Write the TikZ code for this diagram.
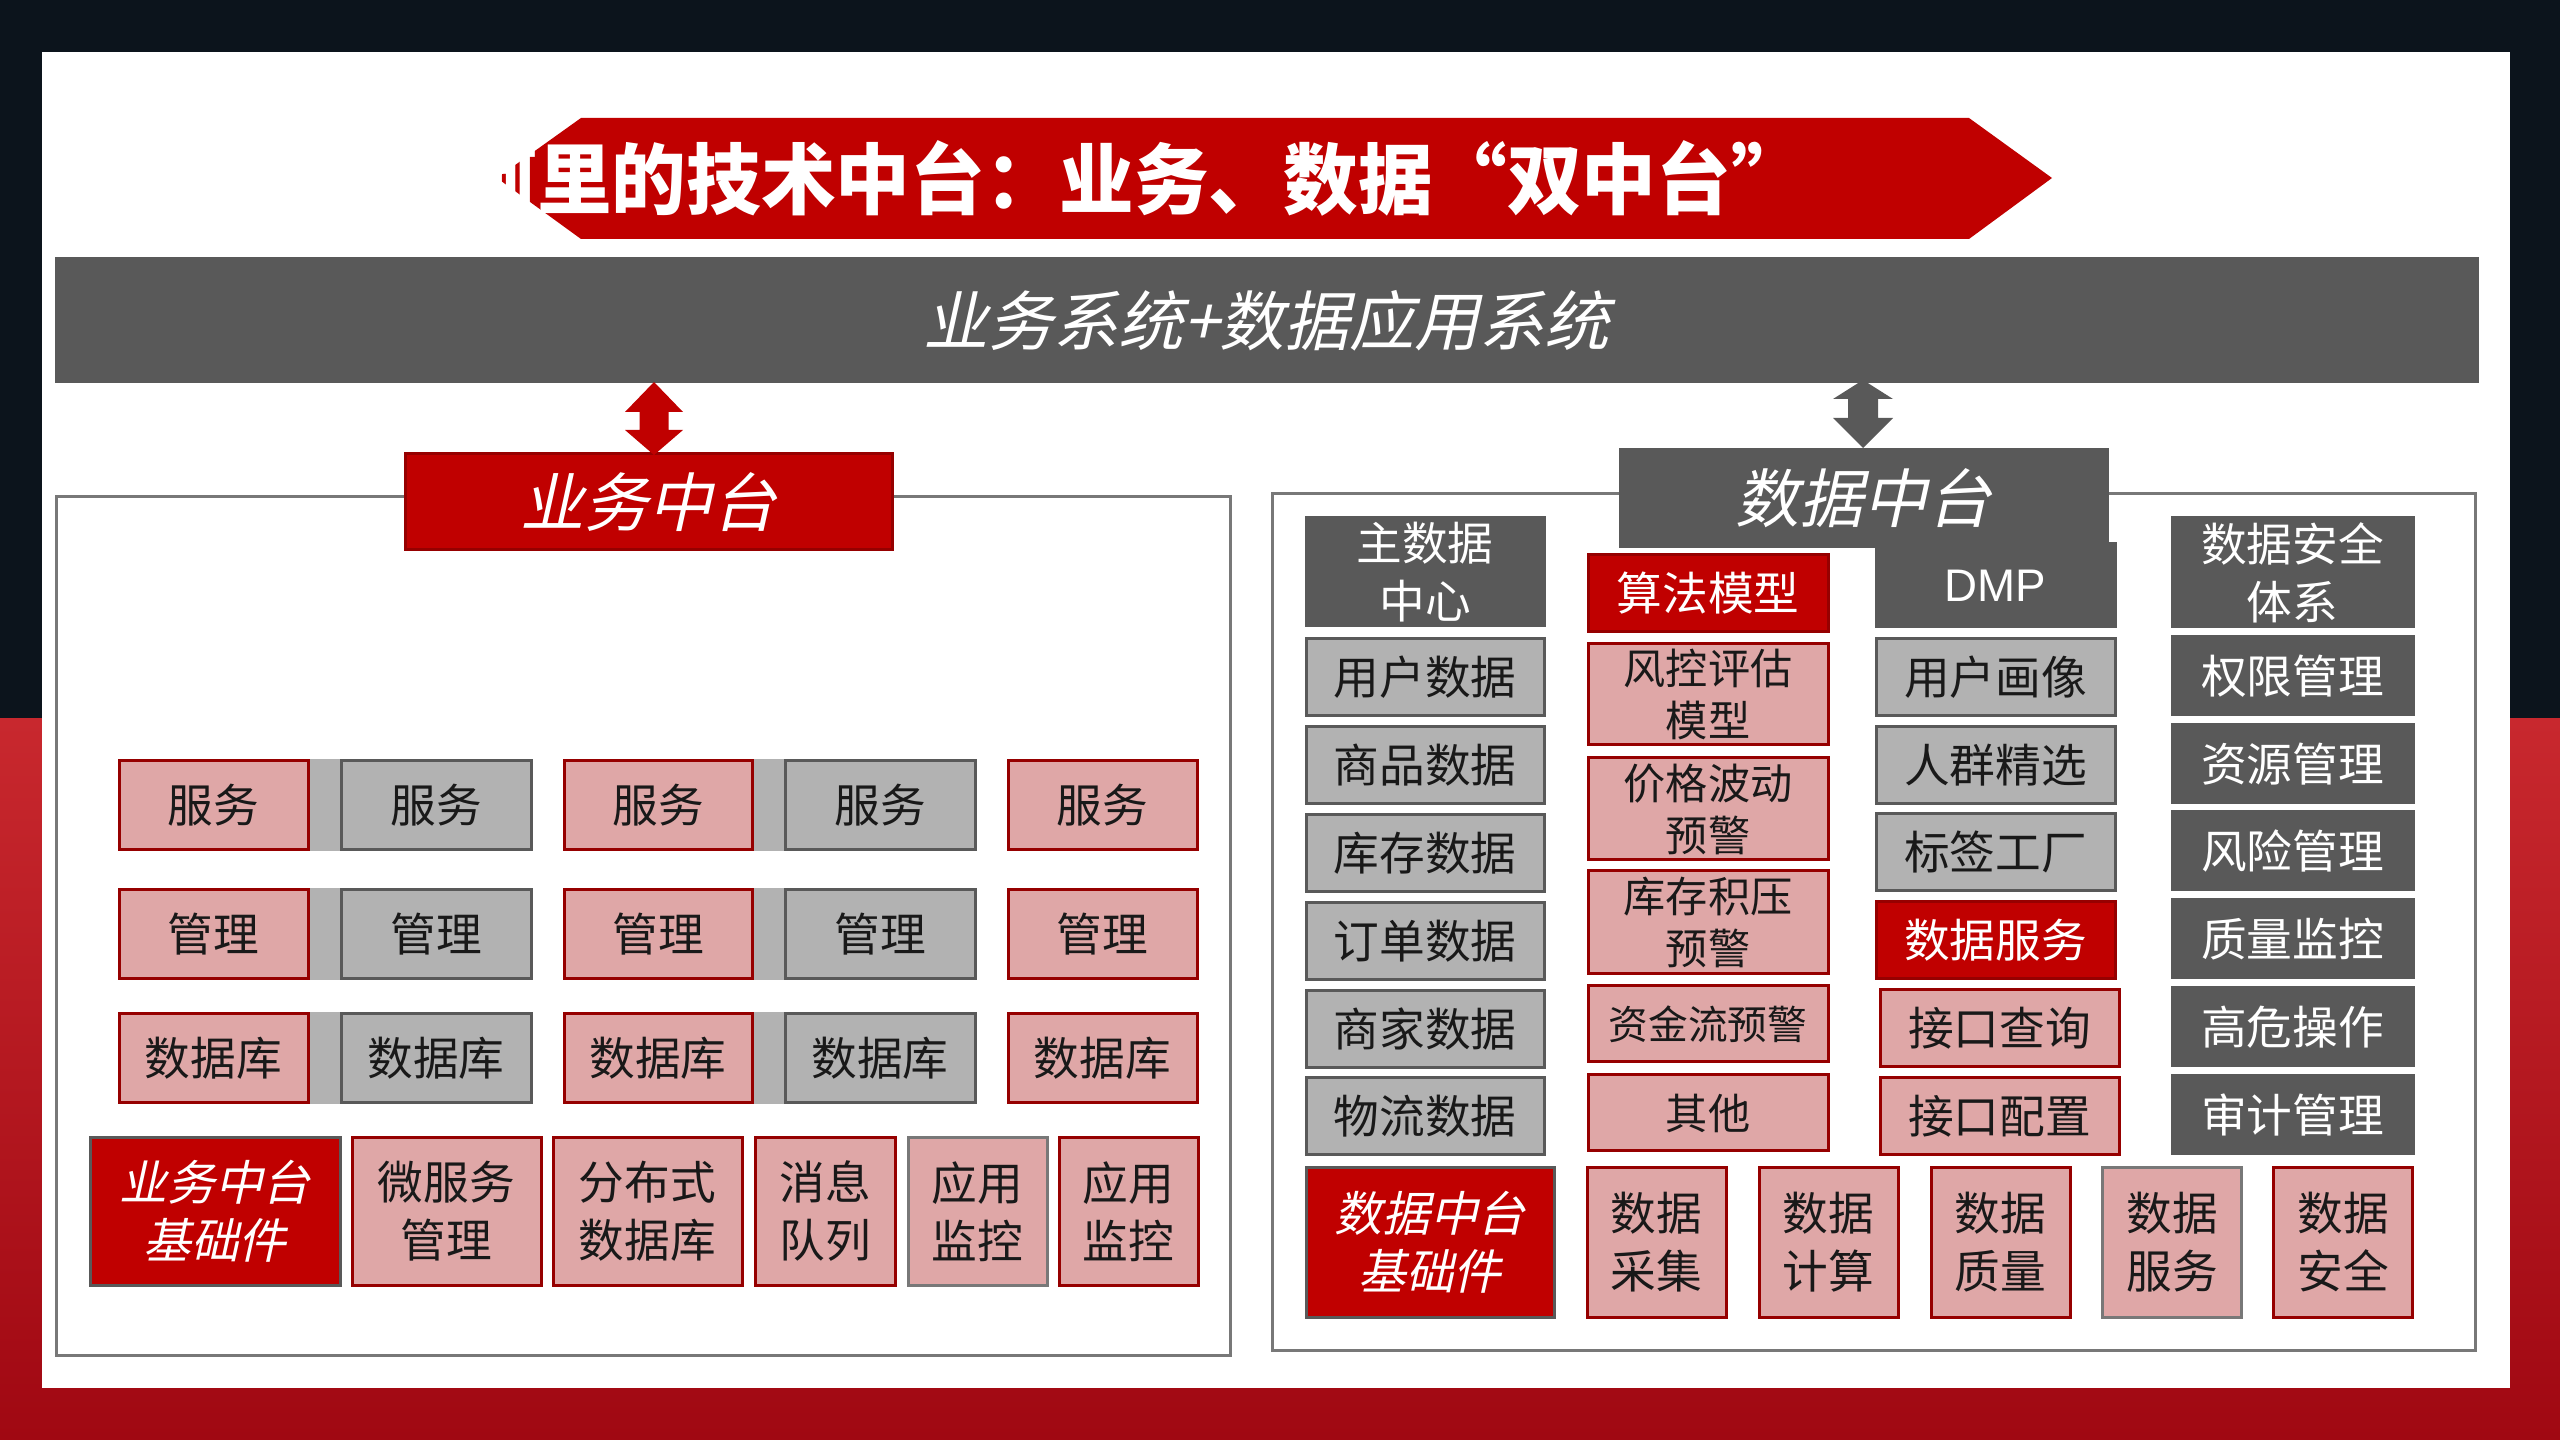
\documentclass[tikz,border=0pt]{standalone}
\usepackage{fontspec}
\setmainfont{Noto Sans CJK SC}
\newfontfamily\slantfont[FakeSlant=0.22]{Noto Sans CJK SC}
\newfontfamily\titlefont[FakeStretch=0.965]{Noto Sans CJK SC}
\newfontfamily\arialfont{Liberation Sans}

\definecolor{mred}{RGB}{192,0,0}
\definecolor{dred}{RGB}{150,0,0}
\definecolor{mpink}{RGB}{223,167,167}
\definecolor{lgray}{RGB}{178,178,178}
\definecolor{dgray}{RGB}{89,89,89}
\definecolor{lineg}{RGB}{120,120,120}
\definecolor{txt}{RGB}{25,25,25}
\definecolor{bgtop}{RGB}{12,20,28}
\definecolor{bgred}{RGB}{200,40,46}
\definecolor{bgred2}{RGB}{160,8,18}

\newcommand\fbody{\fontsize{13pt}{16.5pt}\selectfont}
\newcommand\ftwo{\fontsize{12pt}{14.8pt}\selectfont}
\newcommand\fbig{\slantfont\fontsize{18.2pt}{22pt}\selectfont}

\tikzset{
  cell/.style = {align=center, inner sep=0pt, text centered, font=\fbody,
    line width=0.3mm},
  sz/.style 2 args = {minimum width=#1*0.1mm, minimum height=#2*0.1mm},
  pink_n/.style = {cell, fill=mpink, draw=dred, text=txt},% rosa, bord rouge
  pinkg_n/.style = {cell, fill=mpink, draw=lineg, text=txt},% rosa, bord gris
  gray_n/.style = {cell, fill=lgray, draw=dgray, text=txt},
  dark_n/.style = {cell, fill=dgray, draw=dgray, text=white},
  red_n/.style = {cell, fill=mred, draw=dred, text=white},
  base_n/.style = {cell, fill=mred, draw=dgray, text=white,
    font=\slantfont\fontsize{13.6pt}{16.5pt}\selectfont},
  frame_n/.style = {draw=lineg, line width=0.3mm, inner sep=0pt},
}

\begin{document}
\begin{tikzpicture}[x=0.1mm, y=-0.1mm]
\useasboundingbox (0,0) rectangle (2560,1440);

% fond
\fill[bgtop] (0,0) rectangle (2560,719);
\shade[top color=bgred, bottom color=bgred2] (0,719) rectangle (2560,1440);
\fill[white] (42,52) rectangle (2510,1388);

% titre
\fill[mred] (497,178) -- (581,118) -- (1969,118) -- (2052,178) -- (1969,239)
  -- (581,239) -- cycle;
\node[anchor=west, inner sep=0pt, text=white,
  font=\titlefont\bfseries\fontsize{22pt}{26pt}\selectfont] (title) at (462,178)
  {阿里的技术中台：业务、数据“双中台”};

% barre du haut
\node[dark_n, sz={2421}{123}, font=\slantfont\fontsize{18.5pt}{22pt}\selectfont]
  (bar) at (1266.5,320.5) {业务系统+数据应用系统};

% cadres
\node[frame_n, sz={1174}{858}] (lpanel) at (643,926) {};
\node[frame_n, sz={1203}{856}] (rpanel) at (1873.5,922) {};

\node[red_n, sz={487}{96}, font=\fbig] (bizlbl) at (648.5,502) {业务中台};
\node[dark_n, sz={487}{97}, font=\fbig] (datlbl) at (1863.5,498.5) {数据中台};

% fleches doubles
\coordinate (rtop) at (654,382);
\coordinate (gtop) at (1863,380);
\fill[mred] (rtop) -- ++(29,30) -- ++(-14.5,0) -- ++(0,18) -- ++(14.5,0)
  -- ++(-29,25) -- ++(-29,-25) -- ++(14.5,0) -- ++(0,-18) -- ++(-14.5,0) -- cycle;
\fill[dgray] (gtop) -- ++(30,19) -- ++(-15,0) -- ++(0,19) -- ++(15,0)
  -- ++(-30,30) -- ++(-30,-30) -- ++(15,0) -- ++(0,-19) -- ++(-15,0) -- cycle;

% 业务中台
\node[pink_n, sz={189}{89}] (s1) at (213.5,805) {服务};
\node[gray_n, sz={190}{89}] (s2) at (436,805) {服务};
\node[pink_n, sz={188}{89}] (s3) at (658,805) {服务};
\node[gray_n, sz={190}{89}] (s4) at (880,805) {服务};
\node[pink_n, sz={189}{89}] (s5) at (1102.5,805) {服务};

\node[pink_n, sz={189}{89}] (m1) at (213.5,934) {管理};
\node[gray_n, sz={190}{89}] (m2) at (436,934) {管理};
\node[pink_n, sz={188}{89}] (m3) at (658,934) {管理};
\node[gray_n, sz={190}{89}] (m4) at (880,934) {管理};
\node[pink_n, sz={189}{89}] (m5) at (1102.5,934) {管理};

\node[pink_n, sz={189}{89}] (d1) at (213.5,1058) {数据库};
\node[gray_n, sz={190}{89}] (d2) at (436,1058) {数据库};
\node[pink_n, sz={188}{89}] (d3) at (658,1058) {数据库};
\node[gray_n, sz={190}{89}] (d4) at (880,1058) {数据库};
\node[pink_n, sz={189}{89}] (d5) at (1102.5,1058) {数据库};

% bandes grises entre les cases
\fill[lgray] (s1.north east) rectangle (s2.south west);
\fill[lgray] (s3.north east) rectangle (s4.south west);
\fill[lgray] (m1.north east) rectangle (m2.south west);
\fill[lgray] (m3.north east) rectangle (m4.south west);
\fill[lgray] (d1.north east) rectangle (d2.south west);
\fill[lgray] (d3.north east) rectangle (d4.south west);

\node[base_n, sz={250}{147}] (bbase) at (215,1211.5) {业务中台\\基础件};
\node[pink_n, sz={189}{147}] (b2) at (446.5,1211.5) {微服务\\管理};
\node[pink_n, sz={189}{147}] (b3) at (647.5,1211.5) {分布式\\数据库};
\node[pink_n, sz={140}{147}] (b4) at (825,1211.5) {消息\\队列};
\node[pinkg_n, sz={139}{147}] (b5) at (977.5,1211.5) {应用\\监控};
\node[pink_n, sz={139}{147}] (b6) at (1128.5,1211.5) {应用\\监控};

% 数据中台
\node[dark_n, sz={238}{108}] (mdc) at (1425,572) {主数据\\中心};
\node[gray_n, sz={238}{77}] (c1a) at (1425,677) {用户数据};
\node[gray_n, sz={238}{77}] (c1b) at (1425,765) {商品数据};
\node[gray_n, sz={238}{77}] (c1c) at (1425,853) {库存数据};
\node[gray_n, sz={238}{77}] (c1d) at (1425,941) {订单数据};
\node[gray_n, sz={238}{77}] (c1e) at (1425,1029) {商家数据};
\node[gray_n, sz={238}{77}] (c1f) at (1425,1116) {物流数据};

\node[red_n, sz={240}{77}] (alg) at (1708,593.5) {算法模型};
\node[pink_n, sz={240}{101}, font=\ftwo] (c2a) at (1708,694.5) {风控评估\\模型};
\node[pink_n, sz={240}{102}, font=\ftwo] (c2b) at (1708,809) {价格波动\\预警};
\node[pink_n, sz={240}{103}, font=\ftwo] (c2c) at (1708,922.5) {库存积压\\预警};
\node[pink_n, sz={240}{76}, font=\fontsize{11.3pt}{14pt}\selectfont]
  (c2d) at (1708,1024) {资金流预警};
\node[pink_n, sz={240}{76}, font=\ftwo] (c2e) at (1708,1113) {其他};

\node[dark_n, sz={239}{83}, font=\arialfont\fontsize{13pt}{16pt}\selectfont]
  (dmp) at (1995.5,585.5) {DMP};
\node[gray_n, sz={239}{77}] (c3a) at (1995.5,677) {用户画像};
\node[gray_n, sz={239}{77}] (c3b) at (1995.5,765) {人群精选};
\node[gray_n, sz={239}{77}] (c3c) at (1995.5,852) {标签工厂};
\node[red_n, sz={239}{77}] (c3d) at (1995.5,940) {数据服务};
\node[pink_n, sz={239}{77}] (c3e) at (1999.5,1028) {接口查询};
\node[pink_n, sz={239}{77}] (c3f) at (1999.5,1116) {接口配置};

\node[dark_n, sz={241}{109}] (sec) at (2292.5,572.5) {数据安全\\体系};
\node[dark_n, sz={241}{78}] (c4a) at (2292.5,676) {权限管理};
\node[dark_n, sz={241}{78}] (c4b) at (2292.5,764) {资源管理};
\node[dark_n, sz={241}{78}] (c4c) at (2292.5,851) {风险管理};
\node[dark_n, sz={241}{78}] (c4d) at (2292.5,939) {质量监控};
\node[dark_n, sz={241}{78}] (c4e) at (2292.5,1027) {高危操作};
\node[dark_n, sz={241}{78}] (c4f) at (2292.5,1115) {审计管理};

\node[base_n, sz={248}{149}] (dbase) at (1430,1242.5) {数据中台\\基础件};
\node[pink_n, sz={139}{149}] (e1) at (1656.5,1242.5) {数据\\采集};
\node[pink_n, sz={139}{149}] (e2) at (1828.5,1242.5) {数据\\计算};
\node[pink_n, sz={139}{149}] (e3) at (2000.5,1242.5) {数据\\质量};
\node[pinkg_n, sz={139}{149}] (e4) at (2172,1242.5) {数据\\服务};
\node[pink_n, sz={139}{149}] (e5) at (2343,1242.5) {数据\\安全};
\end{tikzpicture}
\end{document}
